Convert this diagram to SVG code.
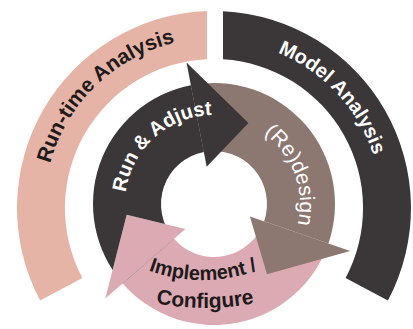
<svg xmlns="http://www.w3.org/2000/svg" xmlns:xlink="http://www.w3.org/1999/xlink" width="413" height="329" viewBox="0 0 413 329">
<style>
.t{font-family:"Liberation Sans",Arial,sans-serif;font-weight:bold;font-size:20px;text-anchor:middle}
.n{font-weight:normal;font-size:21px}
.k{fill:#1e1a1b}
.w{fill:#ffffff}
.opink{fill:#e6b4a7}
.dark{fill:#3b3637}
.brown{fill:#8d7871}
.ipink{fill:#dcaab3}
</style>
<defs>
<path id="p-rta" d="M73.1 303.1 A170 170 0 0 1 313.9 70.5" fill="none"/>
<path id="p-ma" d="M148.4 53.4 A168 168 0 0 1 363.7 284.3" fill="none"/>
<path id="p-ra" d="M131.5 237.3 A89 89 0 0 1 255.8 125.4" fill="none"/>
<path id="p-rd" d="M213.25 118 A86 86 0 0 1 269.8 269.4" fill="none"/>
<path id="p-im" d="M118 255.6 A160 160 0 0 0 288 255.6" fill="none"/>
<path id="p-co" d="M105 287.1 A250 250 0 0 0 305 287.1" fill="none"/>
<clipPath id="notPinkHead"><path clip-rule="evenodd" d="M0 0H413V329H0Z M105.3 298.5 L185.3 228.9 L126.7 214.7 Z"/></clipPath>
</defs>

<g id="runtime-analysis">
<path class="opink" d="M40.1 300.5 A197 197 0 0 1 207 11.1 L207 59.2 A149 149 0 0 0 82.4 278 Z"/>
<text class="t k" style="font-size:21px"><textPath href="#p-rta" xlink:href="#p-rta" startOffset="50%">Run-time Analysis</textPath></text>
</g>

<g id="model-analysis">
<path class="dark" d="M223 11.2 A197 197 0 0 1 387.9 300.5 L345.6 278 A149 149 0 0 0 223 59.3 Z"/>
<text class="t w"><textPath href="#p-ma" xlink:href="#p-ma" startOffset="50%">Model Analysis</textPath></text>
</g>

<g id="implement-configure">
<path class="ipink" d="M328.4 243.4 A121 121 0 0 1 122.7 283.4 L174 238.8 A53 53 0 0 0 264.1 221.3 Z"/>
<path class="ipink" d="M105.3 298.5 L185.3 228.9 L126.7 214.7 Z"/>
<text class="t k"><textPath href="#p-im" xlink:href="#p-im" startOffset="50%">Implement /</textPath></text>
<text class="t k" style="font-size:21px"><textPath href="#p-co" xlink:href="#p-co" startOffset="50%">Configure</textPath></text>
</g>

<g id="redesign">
<path class="brown" d="M190.9 85.2 A121 121 0 0 1 328.4 243.4 L264.1 221.3 A53 53 0 0 0 203.9 152 Z"/>
<path class="brown" d="M350.2 250.9 L249.9 216.4 L267 274.3 Z"/>
<text class="t n w"><textPath href="#p-rd" xlink:href="#p-rd" startOffset="50%">(Re)design</textPath></text>
</g>

<g id="run-adjust">
<path class="dark" clip-path="url(#notPinkHead)" d="M122.7 283.4 A121 121 0 0 1 190.9 85.2 L203.9 152 A53 53 0 0 0 174 238.8 Z"/>
<path class="dark" d="M186.5 62.6 L206.7 166.7 L248.4 123 Z"/>
<text class="t w"><textPath href="#p-ra" xlink:href="#p-ra" startOffset="50%">Run &amp; Adjust</textPath></text>
</g>

<g id="connectors"/>
</svg>
